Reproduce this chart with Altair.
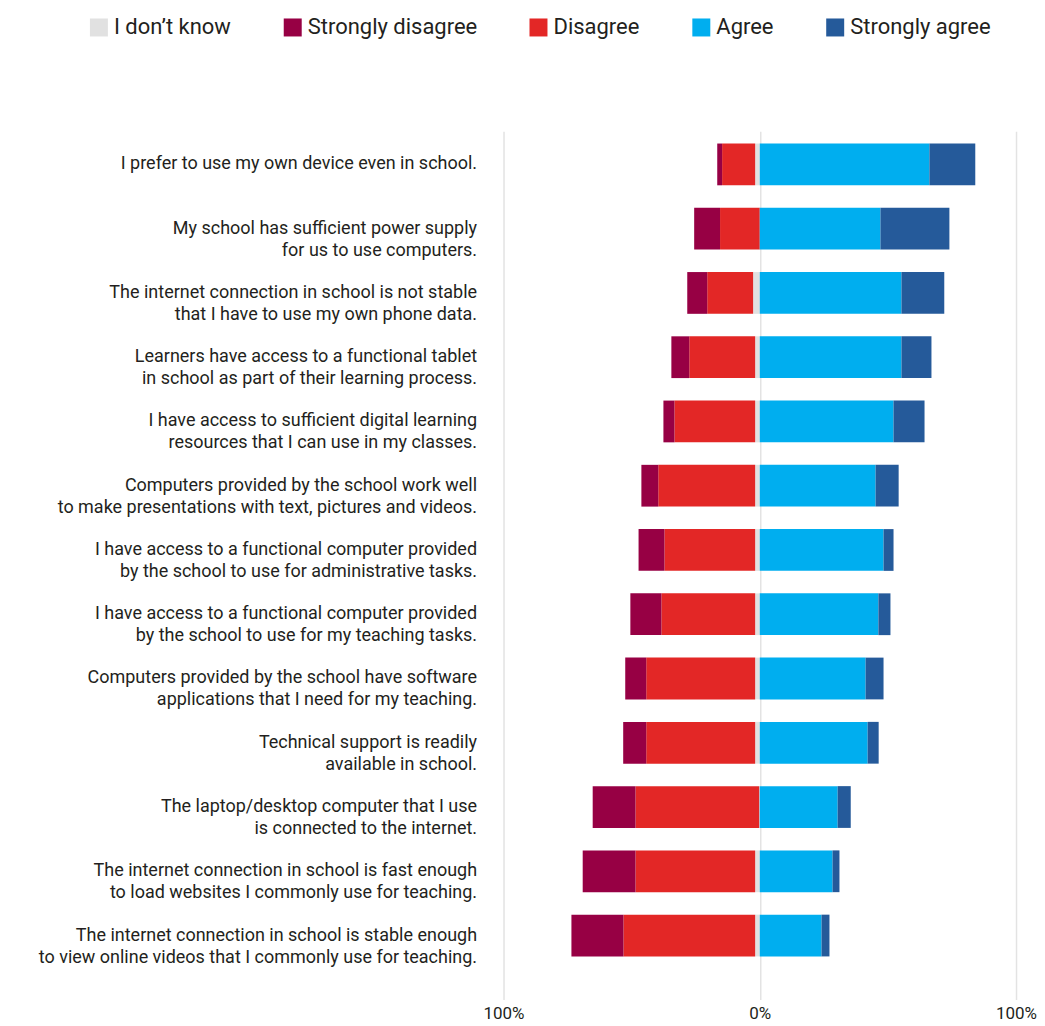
import altair as alt
import pandas as pd

statements = [
    "I prefer to use my own device even in school.",
    "My school has sufficient power supply|for us to use computers.",
    "The internet connection in school is not stable|that I have to use my own phone data.",
    "Learners have access to a functional tablet|in school as part of their learning process.",
    "I have access to sufficient digital learning|resources that I can use in my classes.",
    "Computers provided by the school work well|to make presentations with text, pictures and videos.",
    "I have access to a functional computer provided|by the school to use for administrative tasks.",
    "I have access to a functional computer provided|by the school to use for my teaching tasks.",
    "Computers provided by the school have software|applications that I need for my teaching.",
    "Technical support is readily|available in school.",
    "The laptop/desktop computer that I use|is connected to the internet.",
    "The internet connection in school is fast enough|to load websites I commonly use for teaching.",
    "The internet connection in school is stable enough|to view online videos that I commonly use for teaching.",
]

categories = ["I don\u2019t know", "Strongly disagree", "Disagree", "Agree", "Strongly agree"]
colors = ["#e1e1e1", "#970044", "#e32726", "#00aeef", "#255a9a"]

dont_know = [1.8, 0.0, 2.6, 1.8, 1.8, 1.8, 1.8, 1.8, 1.8, 1.8, 0.2, 1.8, 1.8]
strongly_disagree = [1.9, 10.1, 7.8, 7.0, 4.3, 6.6, 10.1, 12.1, 8.2, 9.0, 16.7, 20.6, 20.3]
disagree = [12.9, 15.5, 17.9, 25.7, 31.5, 37.8, 35.4, 36.6, 42.5, 42.5, 48.3, 46.7, 51.4]
agree = [66.2, 47.1, 55.3, 55.3, 52.2, 45.2, 48.3, 46.3, 41.3, 42.1, 30.4, 28.4, 24.1]
strongly_agree = [17.9, 26.9, 16.7, 11.7, 12.1, 9.0, 3.9, 4.7, 7.0, 4.3, 5.1, 2.7, 3.1]

# stacking order outward from zero: I don't know, Disagree, Strongly disagree | Agree, Strongly agree
series = [
    ("I don\u2019t know", dont_know, -1, 0),
    ("Disagree", disagree, -1, 1),
    ("Strongly disagree", strongly_disagree, -1, 2),
    ("Agree", agree, 1, 3),
    ("Strongly agree", strongly_agree, 1, 4),
]

rows = []
for name, vals, sign, order in series:
    for s, v in zip(statements, vals):
        rows.append({"statement": s, "category": name, "value": sign * v, "ord": order})
df = pd.DataFrame(rows)

FONT = "Roboto"
TEXT = "#231f20"

bars = alt.Chart(df).mark_bar().encode(
    y=alt.Y(
        "statement:N",
        sort=statements,
        scale=alt.Scale(paddingInner=0.35, paddingOuter=0.43, align=0.22),
        axis=alt.Axis(
            title=None,
            labelExpr="split(datum.label, '|')",
            labelFontSize=18,
            labelFont=FONT,
            labelColor=TEXT,
            labelLineHeight=22,
            labelPadding=27,
            labelLimit=600,
            ticks=False,
            domain=False,
        ),
    ),
    x=alt.X(
        "value:Q",
        stack="zero",
        scale=alt.Scale(domain=[-100, 100], nice=False),
        axis=alt.Axis(
            title=None,
            values=[-100, 0, 100],
            labelExpr="abs(datum.value) + '%'",
            labelFontSize=17,
            labelFont=FONT,
            labelColor=TEXT,
            labelPadding=6,
            labelFlush=False,
            labelOverlap=False,
            grid=True,
            gridColor="#e3e3e3",
            gridWidth=1.5,
            ticks=False,
            domain=False,
        ),
    ),
    color=alt.Color(
        "category:N",
        scale=alt.Scale(domain=categories, range=colors),
        legend=alt.Legend(
            title=None,
            orient="none",
            direction="horizontal",
            legendX=-416,
            legendY=-115,
            symbolType="square",
            symbolSize=324,
            symbolStrokeWidth=0,
            symbolOpacity=1,
            labelFontSize=22,
            labelFont=FONT,
            labelColor=TEXT,
            labelOffset=4,
            columnPadding=50,
            labelLimit=400,
        ),
    ),
    order=alt.Order("ord:Q"),
)

chart = (
    bars.properties(
        width=513,
        height=869,
        padding={"top": 8, "left": 30, "right": 0, "bottom": 5},
        background="white",
    )
    .configure_view(stroke=None)
)

chart.save("out.html", embed_options={"renderer": "svg", "actions": False})
